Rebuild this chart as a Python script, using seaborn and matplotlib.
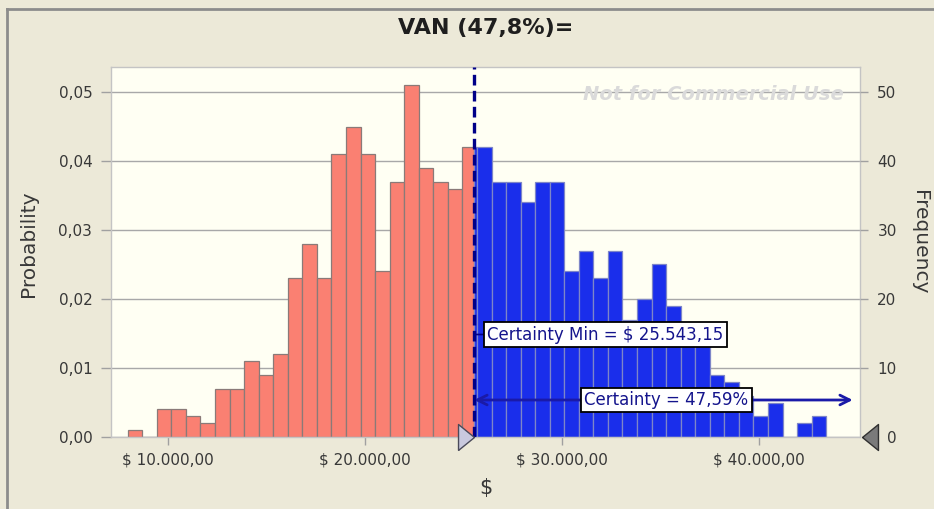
import numpy as np
import pandas as pd
import matplotlib
matplotlib.use("Agg")
import matplotlib.pyplot as plt
from matplotlib.lines import Line2D
from matplotlib.transforms import ScaledTranslation
import seaborn as sns

# ---------------- data ----------------
bin_start = 7940.0          # left edge of first bin ($)
bin_width = 739.0           # bin width ($)
counts = [1, 0, 4, 4, 3, 2, 7, 7, 11, 9,
          12, 23, 28, 23, 41, 45, 41, 24, 37, 51,
          39, 37, 36, 42, 42, 37, 37, 34, 37, 37,
          24, 27, 23, 27, 17, 20, 25, 19, 16, 14,
          9, 8, 6, 3, 5, 0, 2, 3]
n_trials = 1000
certainty_min = 25543.15
certainty_pct = "47,59%"
title = "VAN (47,8%)="
prob_ticks = [0.00, 0.01, 0.02, 0.03, 0.04, 0.05]
prob_labels = ["0,00", "0,01", "0,02", "0,03", "0,04", "0,05"]
freq_ticks = [0, 10, 20, 30, 40, 50]
freq_labels = ["0", "10", "20", "30", "40", "50"]
x_ticks = [10000, 20000, 30000, 40000]
x_labels = ["$ 10.000,00", "$ 20.000,00", "$ 30.000,00", "$ 40.000,00"]

# ---------------- build tables ----------------
edges = bin_start + bin_width * np.arange(len(counts) + 1)
probs = np.array(counts) / n_trials
k = int(np.searchsorted(edges, certainty_min) - 1)   # bin containing certainty min

left_edges = list(edges[:k + 1]) + [certainty_min]
left_x = [(left_edges[i] + left_edges[i + 1]) / 2 for i in range(len(left_edges) - 1)]
left_w = list(probs[:k + 1])
right_edges = [certainty_min] + list(edges[k + 1:])
right_x = [(right_edges[i] + right_edges[i + 1]) / 2 for i in range(len(right_edges) - 1)]
right_w = list(probs[k:])
df_left = pd.DataFrame({"value": left_x, "prob": left_w})
df_right = pd.DataFrame({"value": right_x, "prob": right_w})

# ---------------- figure ----------------
W, H = 934, 509
BG = "#ECE9D8"
fig = plt.figure(figsize=(W / 100, H / 100), dpi=100, facecolor=BG)
ax = fig.add_axes([111 / W, 1 - 437 / H, (860 - 111) / W, (437 - 67) / H])
ax.set_facecolor("#FFFFF3")

sns.histplot(data=df_left, x="value", weights="prob", bins=left_edges, ax=ax,
             color="#FA8072", edgecolor="#8a7a78", linewidth=0.9, alpha=1)
sns.histplot(data=df_right, x="value", weights="prob", bins=right_edges, ax=ax,
             color="#1A2EEB", edgecolor="#7E86C8", linewidth=0.9, alpha=1)

ymax = (437 - 67) / 6900.0
ax.set_xlim(7090, 45130)
ax.set_ylim(0, ymax)
ax.set_axisbelow(True)
ax.yaxis.grid(True, color="#A8A8A8", lw=1)
ax.xaxis.grid(False)
for s in ax.spines.values():
    s.set_color("#C4C4C4")
    s.set_linewidth(1)

ax.set_yticks(prob_ticks)
ax.set_yticklabels(prob_labels)
ax.set_xticks(x_ticks)
ax.set_xticklabels(x_labels)
ax.set_xlabel("")
ax.set_ylabel("")
ax.tick_params(axis="y", length=7, width=1, color="#A0A0A0", pad=6.5,
               labelsize=11, labelcolor="#383838")
ax.tick_params(axis="x", length=5.5, width=1, color="#A0A0A0", pad=6,
               labelsize=11, labelcolor="#383838")

ax2 = ax.twinx()
ax2.set_ylim(0, ymax * n_trials)
ax2.set_yticks(freq_ticks)
ax2.set_yticklabels(freq_labels)
ax2.tick_params(axis="y", length=6, width=1, color="#A0A0A0", pad=6.5,
                labelsize=11, labelcolor="#383838")
for s in ax2.spines.values():
    s.set_visible(False)
# the "0" label sits to the right of the grabber triangle
zero_lbl = ax2.get_yticklabels()[0]
zero_lbl.set_transform(zero_lbl.get_transform() +
                       ScaledTranslation(10 / 100, 0, fig.dpi_scale_trans))
ax2.yaxis.get_major_ticks()[0].tick2line.set_visible(False)

# certainty min line
ax.axvline(certainty_min, color="#000088", lw=2.4, ls=(0, (3.2, 1.6)), zorder=5)

# watermark
ax.text(0.978, 0.925, "Not for Commercial Use", transform=ax.transAxes,
        ha="right", va="center", fontsize=14, fontweight="bold", style="italic",
        color="#DADADA", zorder=1)

# certainty min label
label_y = (437 - 334.5) / 6900.0
ax.annotate("Certainty Min = $ 25.543,15", xy=(certainty_min, label_y),
            xytext=(13, 0), textcoords="offset pixels", ha="left", va="center",
            fontsize=12, color="#14148C", zorder=7,
            bbox=dict(boxstyle="square,pad=0.2", fc="white", ec="black", lw=1.3),
            arrowprops=dict(arrowstyle="-", color="#000088", lw=1.2,
                            shrinkA=0, shrinkB=0))

# certainty arrow
arrow_y = (437 - 400) / 6900.0
arrow_right = 44760
ax.annotate("", xy=(certainty_min, arrow_y), xytext=(arrow_right, arrow_y),
            arrowprops=dict(arrowstyle="<->,head_length=0.7,head_width=0.35",
                            color="#1A1AA8", lw=2.0, shrinkA=0, shrinkB=0),
            zorder=6)
ax.text((certainty_min + arrow_right) / 2 + 142, arrow_y, f"Certainty = {certainty_pct}",
        ha="center", va="center", fontsize=12, color="#14148C", zorder=7,
        bbox=dict(boxstyle="square,pad=0.2", fc="white", ec="black", lw=1.3))

# grabbers
ax.plot([certainty_min], [0], marker=[(-1.23, -1), (0, 0), (-1.23, 1), (-1.23, -1)],
        markersize=23, color="#C9C9DE", markeredgecolor="#4A4A5A", markeredgewidth=1,
        clip_on=False, zorder=8)
ax.plot([1.003], [0], transform=ax.transAxes,
        marker=[(0, 0), (1.23, 1), (1.23, -1), (0, 0)],
        markersize=23, color="#7A7A7A", markeredgecolor="#303030", markeredgewidth=1,
        clip_on=False, zorder=8)

# texts
fig.text(485.5 / W, 1 - 28 / H, title, ha="center", va="center",
         fontsize=16, fontweight="bold", color="#1E1E1E")
fig.text(29 / W, 1 - 244 / H, "Probability", rotation=90, ha="center", va="center",
         fontsize=14.5, color="#383838")
fig.text(920 / W, 1 - 242 / H, "Frequency", rotation=270, ha="center", va="center",
         fontsize=14.5, color="#383838")
fig.text(485.5 / W, 1 - 488 / H, "$", ha="center", va="center",
         fontsize=15, color="#383838")

# outer frame (sunken panel look)
fig.add_artist(Line2D([7 / W, 7 / W], [0, 1 - 9 / H], transform=fig.transFigure,
                      color="#8C8C8C", lw=2))
fig.add_artist(Line2D([7 / W, 1], [1 - 9 / H, 1 - 9 / H], transform=fig.transFigure,
                      color="#8C8C8C", lw=2))

fig.savefig("out.png", dpi=100, facecolor=BG)
